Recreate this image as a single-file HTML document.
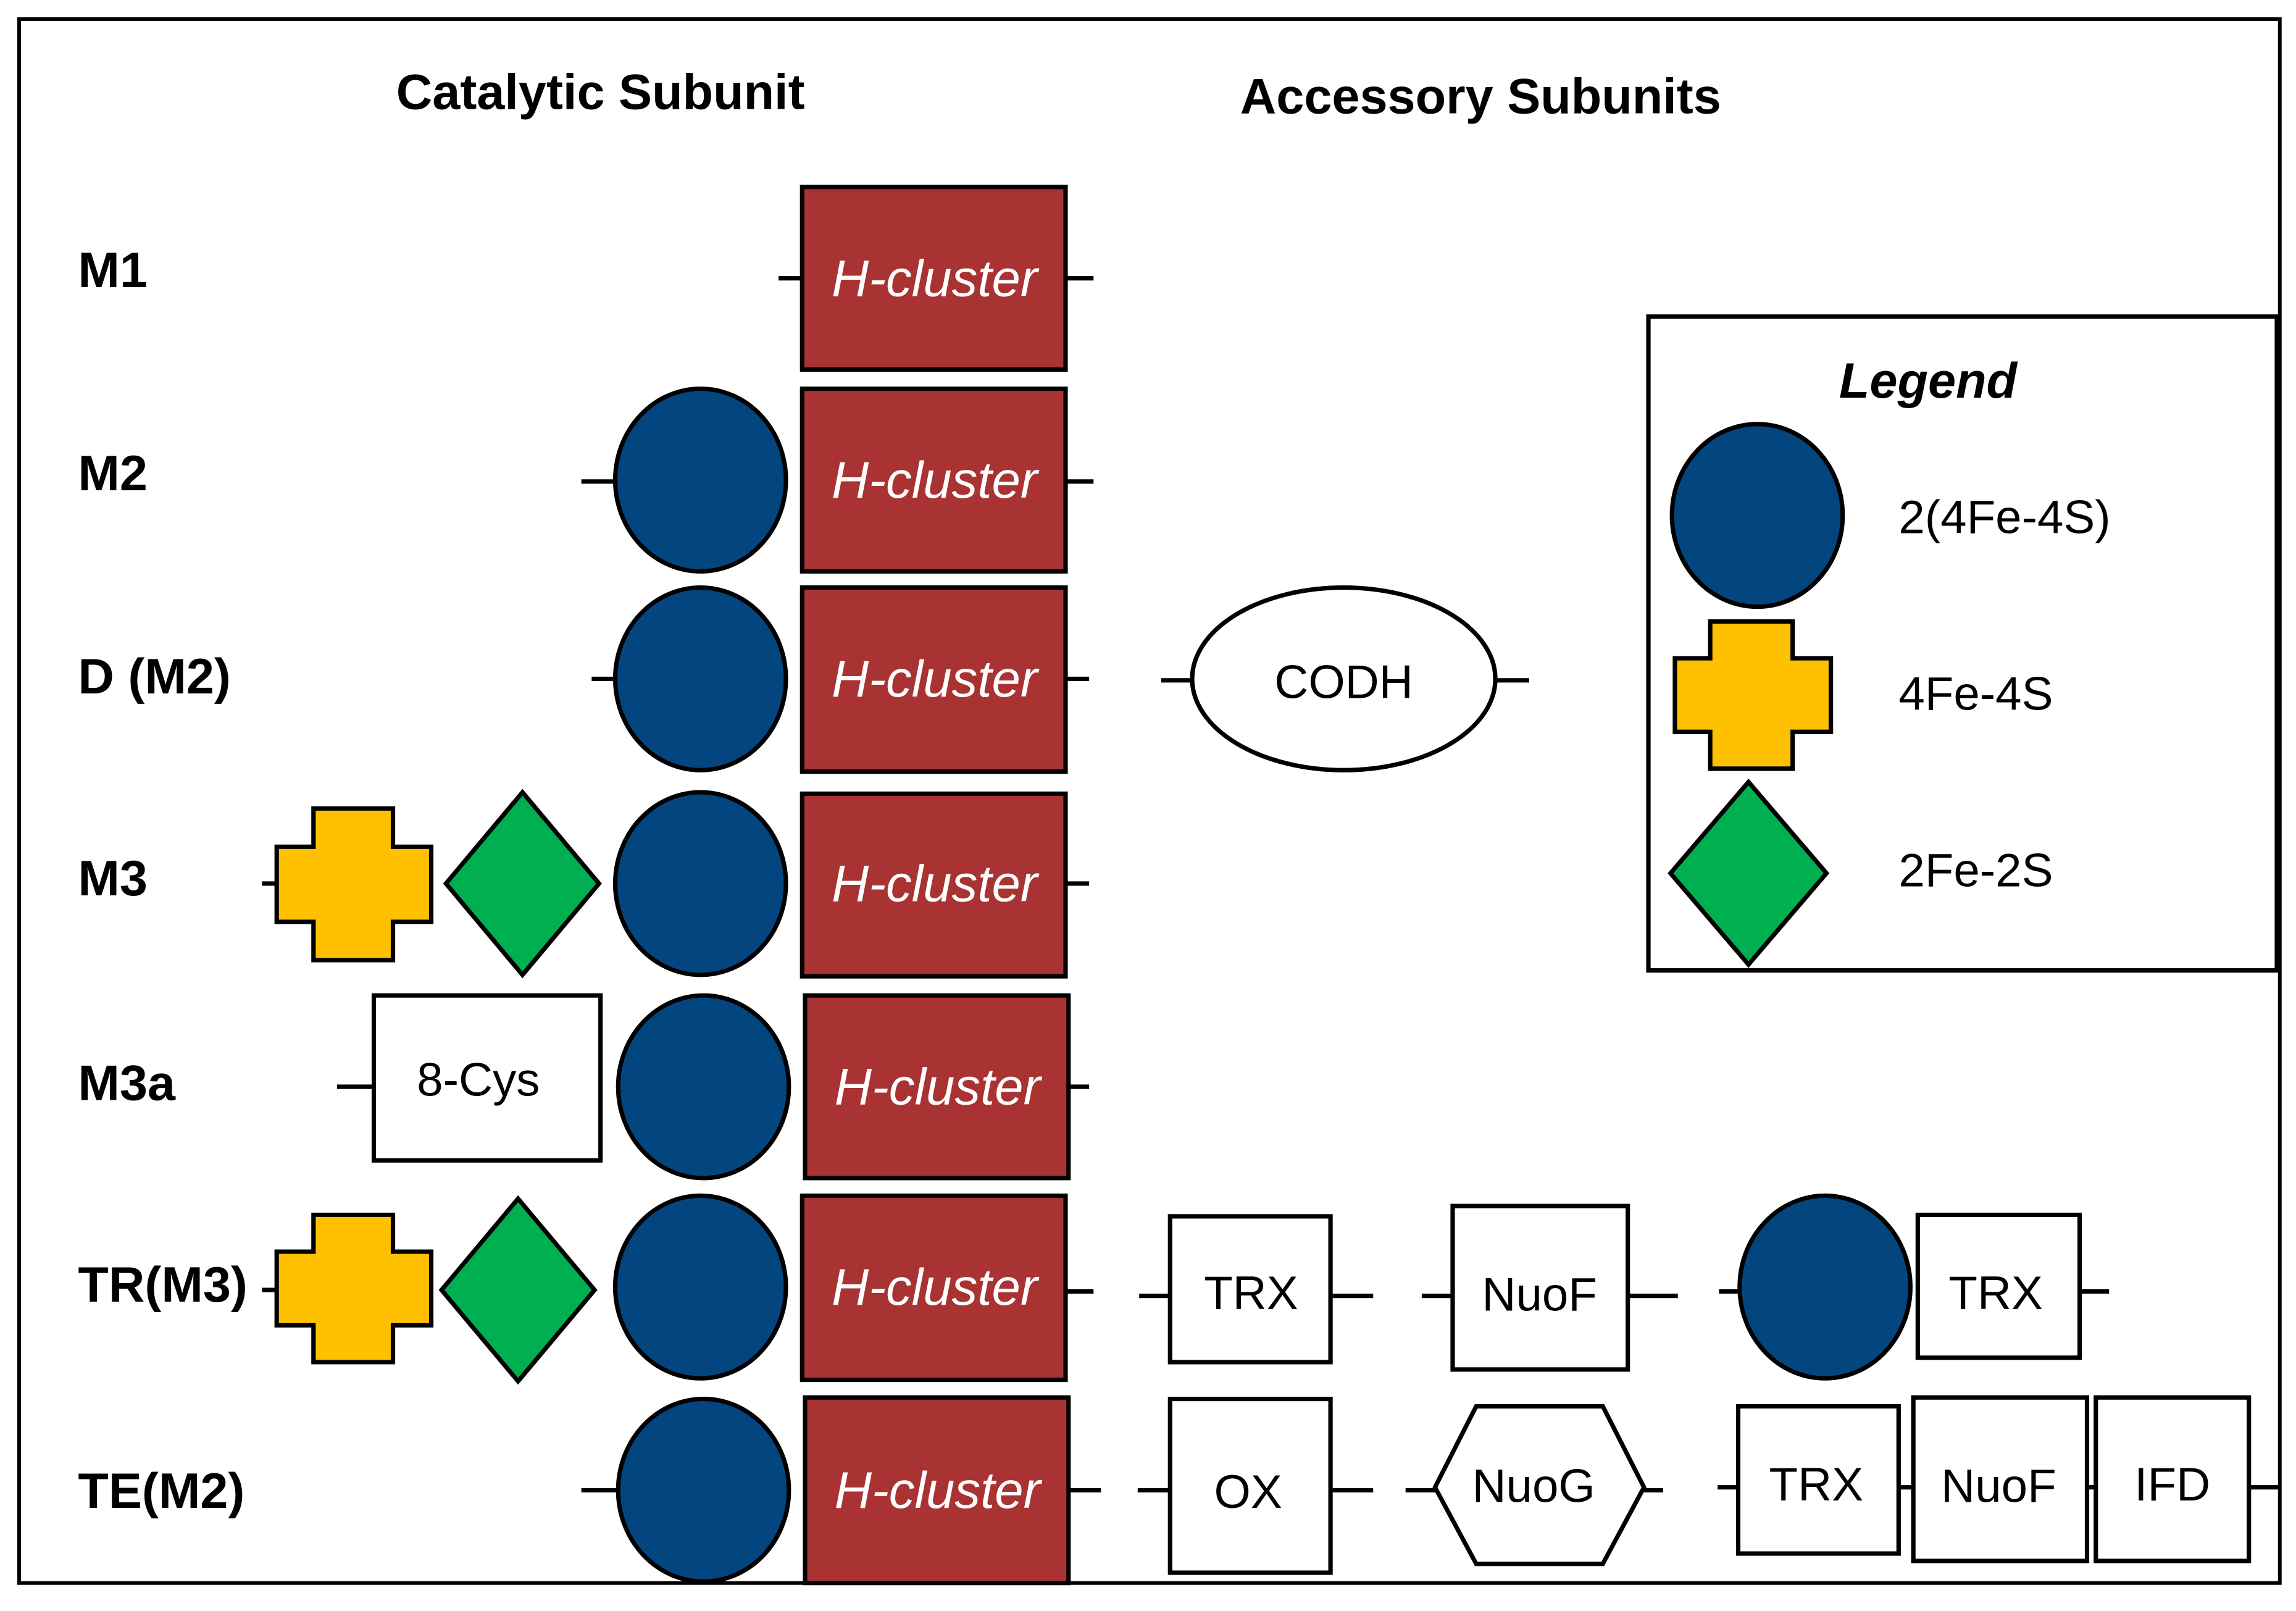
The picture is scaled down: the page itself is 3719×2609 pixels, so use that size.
<!DOCTYPE html>
<html><head><meta charset="utf-8"><style>
html,body{margin:0;padding:0;background:#fff;}
svg{display:block;}
text{font-family:"Liberation Sans","DejaVu Sans",sans-serif;}
.lbl{font-weight:bold;font-size:34px;fill:#000;}
.hc{font-style:italic;font-size:35px;fill:#fff;}
.bx{fill:#fff;stroke:#000;stroke-width:3;}
.t{font-size:32px;fill:#000;}
.ln{stroke:#000;stroke-width:3;}
.red{fill:#a93232;stroke:#000;stroke-width:3;}
.blue{fill:#03467f;stroke:#000;stroke-width:3;}
.org{fill:#ffc000;stroke:#000;stroke-width:3;}
.grn{fill:#00b050;stroke:#000;stroke-width:3;}
</style></head><body>
<svg width="3719" height="2609" viewBox="0 0 1560 1094" preserveAspectRatio="none" xmlns="http://www.w3.org/2000/svg">
<rect x="0" y="0" width="1560" height="1094" fill="#fff"/>
<rect x="13" y="13" width="1536" height="1062" fill="none" stroke="#000" stroke-width="2.5"/>
<text x="408" y="74" text-anchor="middle" class="lbl" font-size="35">Catalytic Subunit</text>
<text x="1006" y="77" text-anchor="middle" class="lbl" font-size="35">Accessory Subunits</text>

<text x="53" y="195" class="lbl">M1</text>
<text x="53" y="333" class="lbl">M2</text>
<text x="53" y="471" class="lbl">D (M2)</text>
<text x="53" y="608" class="lbl">M3</text>
<text x="53" y="747" class="lbl">M3a</text>
<text x="53" y="884" class="lbl">TR(M3)</text>
<text x="53" y="1024" class="lbl">TE(M2)</text>

<g class="ln">
<line x1="529" y1="189" x2="545" y2="189"/><line x1="724" y1="189" x2="743" y2="189"/>
<line x1="395" y1="327" x2="418" y2="327"/><line x1="724" y1="327" x2="743" y2="327"/>
<line x1="402" y1="461" x2="418" y2="461"/><line x1="724" y1="461" x2="740" y2="461"/>
<line x1="789" y1="462" x2="811" y2="462"/><line x1="1016" y1="462" x2="1039" y2="462"/>
<line x1="178" y1="600" x2="188" y2="600"/><line x1="724" y1="600" x2="740" y2="600"/>
<line x1="229" y1="738" x2="254" y2="738"/><line x1="726" y1="738" x2="740" y2="738"/>
<line x1="178" y1="876" x2="188" y2="876"/><line x1="724" y1="877" x2="743" y2="877"/>
<line x1="774" y1="880" x2="795" y2="880"/><line x1="904" y1="880" x2="933" y2="880"/>
<line x1="966" y1="880" x2="987" y2="880"/><line x1="1106" y1="880" x2="1140" y2="880"/>
<line x1="1168" y1="877" x2="1182" y2="877"/><line x1="1413" y1="877" x2="1433" y2="877"/>
<line x1="395" y1="1012" x2="420" y2="1012"/><line x1="726" y1="1012" x2="748" y2="1012"/>
<line x1="773" y1="1012" x2="795" y2="1012"/><line x1="904" y1="1012" x2="933" y2="1012"/>
<line x1="955" y1="1012" x2="975" y2="1012"/><line x1="1117" y1="1012" x2="1130" y2="1012"/>
<line x1="1167" y1="1010" x2="1181" y2="1010"/><line x1="1290" y1="1010" x2="1300" y2="1010"/>
<line x1="1418" y1="1010" x2="1424" y2="1010"/><line x1="1528" y1="1010" x2="1549" y2="1010"/>
</g>

<g>
<rect x="545" y="127" width="179" height="124" class="red"/>
<rect x="545" y="264" width="179" height="124" class="red"/>
<rect x="545" y="399" width="179" height="125" class="red"/>
<rect x="545" y="539" width="179" height="124" class="red"/>
<rect x="547" y="676" width="179" height="124" class="red"/>
<rect x="545" y="812" width="179" height="125" class="red"/>
<rect x="547" y="949" width="179" height="126" class="red"/>
</g>
<g class="hc" text-anchor="middle">
<text x="635" y="201">H-cluster</text>
<text x="635" y="338">H-cluster</text>
<text x="635" y="473">H-cluster</text>
<text x="635" y="612">H-cluster</text>
<text x="637" y="750">H-cluster</text>
<text x="635" y="886">H-cluster</text>
<text x="637" y="1024">H-cluster</text>
</g>

<ellipse cx="476" cy="326" rx="58" ry="62" class="blue"/>
<ellipse cx="476" cy="461" rx="58" ry="62" class="blue"/>
<ellipse cx="476" cy="600" rx="58" ry="62" class="blue"/>
<ellipse cx="478" cy="738" rx="58" ry="62" class="blue"/>
<ellipse cx="476" cy="874" rx="58" ry="62" class="blue"/>
<ellipse cx="478" cy="1012" rx="58" ry="62" class="blue"/>
<ellipse cx="1240" cy="874" rx="58" ry="62" class="blue"/>

<ellipse cx="913" cy="461" rx="103" ry="62" class="bx"/>
<text x="913" y="474" text-anchor="middle" class="t">CODH</text>

<path d="M213 549H267V575H293V626H267V652H213V626H188V575H213Z" class="org"/>
<path d="M213 825H267V850H293V900H267V925H213V900H188V850H213Z" class="org"/>
<path d="M1162 422H1218V447H1244V497H1218V522H1162V497H1138V447H1162Z" class="org"/>
<path d="M355 538L407 600L355 662L303 600Z" class="grn"/>
<path d="M352 814L404 876L352 938L300 876Z" class="grn"/>
<path d="M1188 531L1241 593L1188 655L1135 593Z" class="grn"/>

<rect x="254" y="676" width="154" height="112" class="bx"/><text x="325" y="744" text-anchor="middle" class="t">8-Cys</text>
<rect x="795" y="826" width="109" height="99" class="bx"/><text x="850" y="889" text-anchor="middle" class="t">TRX</text>
<rect x="987" y="819" width="119" height="111" class="bx"/><text x="1046" y="890" text-anchor="middle" class="t">NuoF</text>
<rect x="1303" y="825" width="110" height="97" class="bx"/><text x="1356" y="889" text-anchor="middle" class="t">TRX</text>
<rect x="795" y="950" width="109" height="118" class="bx"/><text x="848" y="1024" text-anchor="middle" class="t">OX</text>
<path d="M975 1010L1003 955H1089L1117 1010L1089 1062H1003Z" class="bx"/><text x="1042" y="1020" text-anchor="middle" class="t">NuoG</text>
<rect x="1181" y="955" width="109" height="100" class="bx"/><text x="1234" y="1019" text-anchor="middle" class="t">TRX</text>
<rect x="1300" y="949" width="118" height="111" class="bx"/><text x="1358" y="1020" text-anchor="middle" class="t">NuoF</text>
<rect x="1424" y="949" width="104" height="111" class="bx"/><text x="1476" y="1019" text-anchor="middle" class="t">IFD</text>

<rect x="1120" y="215" width="427" height="444" fill="none" stroke="#000" stroke-width="3"/>
<text x="1310" y="270" text-anchor="middle" class="lbl" font-style="italic">Legend</text>
<ellipse cx="1194" cy="350" rx="58" ry="62" class="blue"/>
<text x="1290" y="362" class="t">2(4Fe-4S)</text>
<text x="1290" y="482" class="t">4Fe-4S</text>
<text x="1290" y="602" class="t">2Fe-2S</text>
</svg>
</body></html>
